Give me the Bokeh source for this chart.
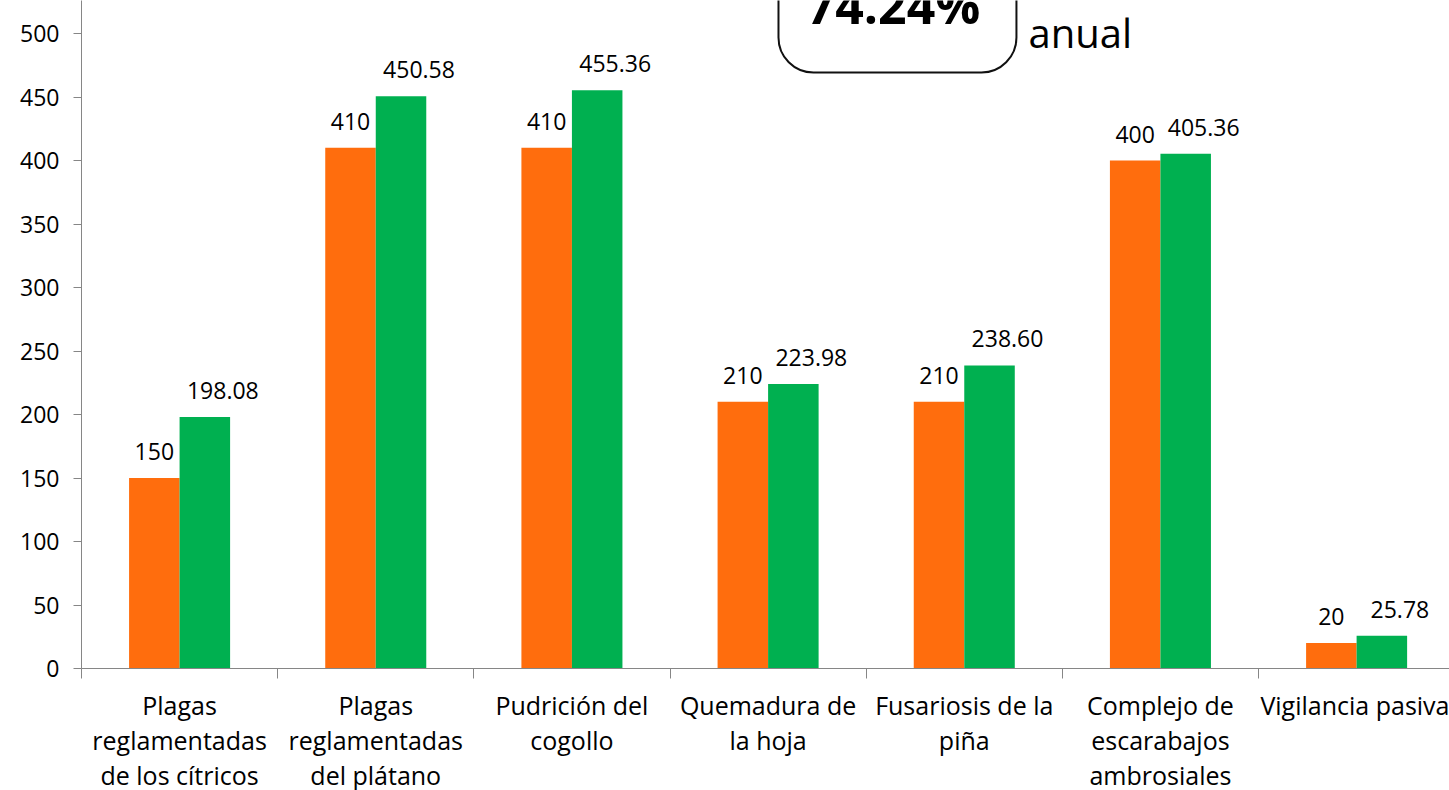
from bokeh.plotting import figure
from bokeh.models import (ColumnDataSource, Range1d, LinearAxis, FixedTicker,
                          LabelSet, BoxAnnotation)
from bokeh.core.properties import value
from bokeh.transform import dodge
from bokeh.embed import file_html
from bokeh.resources import INLINE

# ---- data ----
categories = ["Plagas\nreglamentadas\nde los cítricos",
              "Plagas\nreglamentadas\ndel plátano",
              "Pudrición del\ncogollo",
              "Quemadura de\nla hoja",
              "Fusariosis de la\npiña",
              "Complejo de\nescarabajos\nambrosiales",
              "Vigilancia pasiva"]
programado = [150, 410, 410, 210, 210, 400, 20]
alcanzado = [198.08, 450.58, 455.36, 223.98, 238.60, 405.36, 25.78]
y_ticks = [0, 50, 100, 150, 200, 250, 300, 350, 400, 450, 500]
badge_value = "74.24%"
badge_note = "anual"

ORANGE = "#FF6D0D"
GREEN = "#00B050"
AXIS = "#868686"
FONT = "Open Sans"

n = len(categories)
centers = [i + 0.5 for i in range(n)]
bounds = [float(i) for i in range(n)]

src = ColumnDataSource(dict(
    x=centers,
    prog=programado,
    alc=alcanzado,
    prog_lbl=[str(v) for v in programado],
    alc_lbl=[f"{v:.2f}" for v in alcanzado],
))

FRAME_W = 1368
FRAME_H = 668
CAT_PX = 196.17
PX_PER_UNIT = 1.27

p = figure(width=1449, height=790, frame_width=FRAME_W, frame_height=FRAME_H,
           output_backend="svg", toolbar_location=None,
           x_range=Range1d(0, FRAME_W / CAT_PX),
           y_range=Range1d(0, FRAME_H / PX_PER_UNIT),
           x_axis_type=None, y_axis_type=None,
           min_border_left=81, min_border_right=0, min_border_top=0,
           min_border_bottom=122)
p.outline_line_color = None
p.xgrid.visible = False
p.ygrid.visible = False
p.background_fill_color = "white"
p.border_fill_color = "white"

bw = 0.2575
p.vbar(x=dodge("x", -bw / 2, range=p.x_range), top="prog", width=bw, bottom=0,
       source=src, fill_color=ORANGE, line_color=None)
p.vbar(x=dodge("x", bw / 2, range=p.x_range), top="alc", width=bw, bottom=0,
       source=src, fill_color=GREEN, line_color=None)

lab_kw = dict(text_font=value(FONT), text_font_size=value("23px"), text_color="#000000",
              text_align="center", text_baseline="alphabetic", y_offset=18)
p.add_layout(LabelSet(x=dodge("x", -bw / 2, range=p.x_range), y="prog", text="prog_lbl",
                      source=src, **lab_kw))
p.add_layout(LabelSet(x=dodge("x", bw / 2, range=p.x_range), y="alc", text="alc_lbl",
                      source=src, x_offset=18, **lab_kw))

# y axis
yax = LinearAxis(ticker=FixedTicker(ticks=y_ticks, minor_ticks=[]))
yax.axis_line_color = AXIS
yax.major_tick_line_color = AXIS
yax.major_tick_out = 8
yax.major_tick_in = 0
yax.minor_tick_line_color = None
yax.major_label_standoff = 14
yax.major_label_text_font = FONT
yax.major_label_text_font_size = "23px"
yax.major_label_text_color = "#000000"
p.add_layout(yax, "left")

# x axis
xax = LinearAxis(ticker=FixedTicker(ticks=centers, minor_ticks=bounds))
xax.major_label_overrides = {c: lab for c, lab in zip(centers, categories)}
xax.axis_line_color = AXIS
xax.major_tick_line_color = None
xax.major_tick_out = 0
xax.major_tick_in = 0
xax.minor_tick_line_color = AXIS
xax.minor_tick_out = 10
xax.minor_tick_in = 0
xax.major_label_standoff = 9
xax.major_label_text_font = FONT
xax.major_label_text_font_size = "25px"
xax.major_label_text_color = "#000000"
xax.major_label_text_line_height = 1.03
p.add_layout(xax, "below")

# badge box at top
box = BoxAnnotation(left=3.553, right=4.766, bottom=469.3, top=560,
                    fill_color=None, fill_alpha=0, line_color="#111111",
                    line_alpha=1.0, line_width=2, border_radius=35)
p.add_layout(box)
p.text(x=[4.139], y=[522.8], text=[badge_value], text_font=value(FONT),
       text_font_style="bold", text_font_size=value("50px"),
       text_align="center", text_baseline="alphabetic", text_color="#000000")
p.text(x=[4.827], y=[500.8], text=[badge_note], text_font=value(FONT),
       text_font_size=value("40px"), text_align="left",
       text_baseline="alphabetic", text_color="#000000")

open("out.html", "w").write(file_html(p, INLINE))
